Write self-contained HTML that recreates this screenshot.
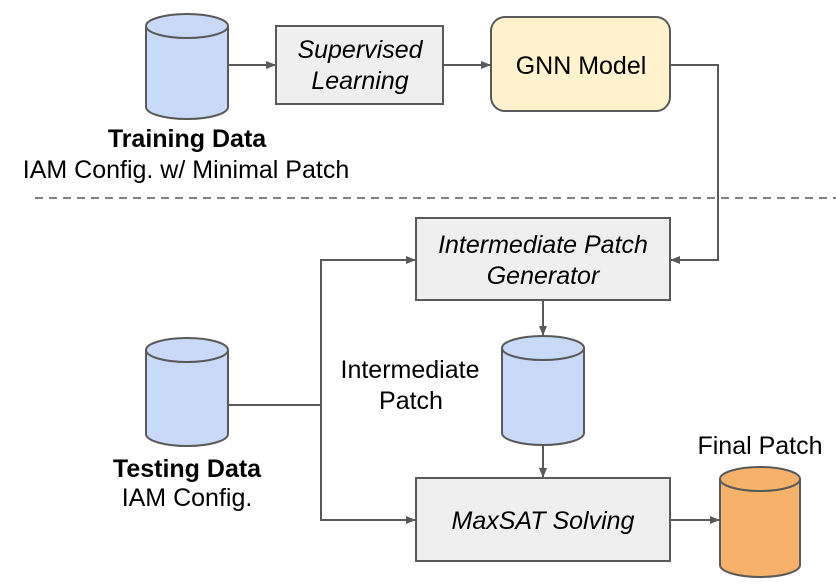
<!DOCTYPE html>
<html><head><meta charset="utf-8"><style>
html,body{margin:0;padding:0;background:#fff;}
svg{display:block;}
text{font-family:"Liberation Sans",Arial,sans-serif;fill:#000;}
</style></head><body>
<svg width="836" height="586" viewBox="0 0 836 586" xmlns="http://www.w3.org/2000/svg">
<defs>
<marker id="a" viewBox="0 0 10 10" refX="9" refY="5" markerWidth="10" markerHeight="10" markerUnits="userSpaceOnUse" orient="auto">
<path d="M0,1 L10,5 L0,9 z" fill="#595959"/></marker>
</defs>
<g stroke="#595959" stroke-width="2" fill="none">
<path d="M146,26 v81 a41,12 0 0 0 82,0 v-81" fill="#c9daf8"/>
<ellipse cx="187" cy="26" rx="41" ry="12" fill="#c9daf8"/>
<path d="M146,350 v84 a41,12 0 0 0 82,0 v-84" fill="#c9daf8"/>
<ellipse cx="187" cy="350" rx="41" ry="12" fill="#c9daf8"/>
<path d="M502,348 v85 a41,12 0 0 0 82,0 v-85" fill="#c9daf8"/>
<ellipse cx="543" cy="348" rx="41" ry="12" fill="#c9daf8"/>
<path d="M720,479 v86 a40,12 0 0 0 80,0 v-86" fill="#f6b26b"/>
<ellipse cx="760" cy="479" rx="40" ry="12" fill="#f6b26b"/>
<rect x="276" y="26" width="167" height="78" fill="#efefef"/>
<rect x="491" y="17" width="179" height="94" rx="14" fill="#fff2cc"/>
<rect x="416" y="218" width="254" height="82" fill="#efefef"/>
<rect x="416" y="478" width="254" height="83" fill="#efefef"/>
<path d="M228,65 H275" marker-end="url(#a)"/>
<path d="M443,65 H490" marker-end="url(#a)"/>
<path d="M670,65 H718 V260 H671" marker-end="url(#a)"/>
<path d="M228,405 H321"/>
<path d="M321,405 V260 H415" marker-end="url(#a)"/>
<path d="M321,405 V520 H415" marker-end="url(#a)"/>
<path d="M543,300 V335" marker-end="url(#a)"/>
<path d="M543,445 V477" marker-end="url(#a)"/>
<path d="M670,520 H719" marker-end="url(#a)"/>
<path d="M35,198 H836" stroke-dasharray="8,6" stroke-width="1.5"/>
</g>
<g font-size="25" text-anchor="middle">
<text x="360" y="58" font-style="italic">Supervised</text>
<text x="360" y="89" font-style="italic">Learning</text>
<text x="581" y="74">GNN Model</text>
<text x="187" y="147" font-weight="bold">Training Data</text>
<text x="186" y="178">IAM Config. w/ Minimal Patch</text>
<text x="543" y="253" font-style="italic">Intermediate Patch</text>
<text x="543" y="284" font-style="italic">Generator</text>
<text x="410" y="378">Intermediate</text>
<text x="411" y="409">Patch</text>
<text x="187" y="477" font-weight="bold">Testing Data</text>
<text x="187" y="506">IAM Config.</text>
<text x="543" y="529" font-style="italic">MaxSAT Solving</text>
<text x="760" y="454">Final Patch</text>
</g>
</svg>
</body></html>
